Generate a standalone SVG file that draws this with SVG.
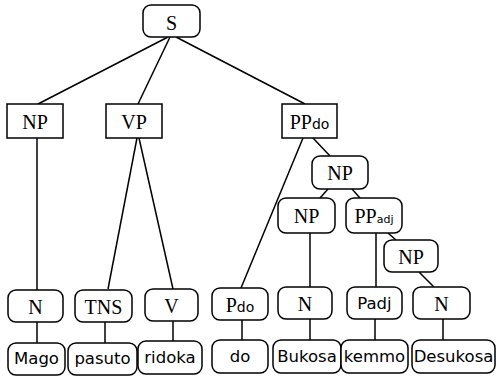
<svg xmlns="http://www.w3.org/2000/svg" width="497" height="377" viewBox="0 0 497 377">
<style>
.r{fill:#fff;stroke:#000;stroke-width:1.5}
.c{font-family:"Liberation Serif",serif;font-size:20px;text-anchor:middle;fill:#000}
.w{font-family:"DejaVu Sans",sans-serif;font-size:16.5px;text-anchor:middle;fill:#000}
.s{font-family:"DejaVu Sans",sans-serif;font-size:14px}
.x{font-family:"DejaVu Sans",sans-serif;font-size:11px}
#edges line{stroke:#000;stroke-width:1.5}
</style>
<rect width="497" height="377" fill="#fff"/>
<g id="edges">
<line x1="168" y1="37" x2="38" y2="104"/>
<line x1="170" y1="37" x2="138" y2="104"/>
<line x1="176" y1="37" x2="305" y2="104"/>
<line x1="37" y1="138" x2="37" y2="290"/>
<line x1="137" y1="138" x2="108" y2="289"/>
<line x1="139" y1="138" x2="173" y2="289"/>
<line x1="303" y1="138" x2="241" y2="288"/>
<line x1="313" y1="138" x2="330" y2="156"/>
<line x1="328" y1="189" x2="320" y2="198"/>
<line x1="352" y1="189" x2="360" y2="198"/>
<line x1="310" y1="233" x2="310" y2="287"/>
<line x1="376" y1="233" x2="376" y2="288"/>
<line x1="388" y1="233" x2="396" y2="240"/>
<line x1="419" y1="272" x2="434" y2="287"/>
<line x1="37" y1="322" x2="37" y2="343"/>
<line x1="105" y1="322" x2="105" y2="343"/>
<line x1="173" y1="321" x2="173" y2="341"/>
<line x1="242" y1="320" x2="242" y2="340"/>
<line x1="310" y1="319" x2="310" y2="340"/>
<line x1="375" y1="319" x2="375" y2="340"/>
<line x1="443" y1="319" x2="443" y2="340"/>
</g>
<g id="S"><rect class="r" x="143" y="5" width="57" height="32" rx="8"/><text class="c" x="171.5" y="30">S</text></g>
<g id="NP1"><rect class="r" x="7" y="104" width="56" height="34"/><text class="c" x="35" y="129">NP</text></g>
<g id="VP"><rect class="r" x="106" y="104" width="56" height="34"/><text class="c" x="134" y="129">VP</text></g>
<g id="PPdo"><rect class="r" x="282" y="104" width="55" height="34"/><text class="c" x="309.5" y="129">PP<tspan class="s">do</tspan></text></g>
<g id="NP2"><rect class="r" x="312" y="156" width="56" height="33" rx="8"/><text class="c" x="340" y="180">NP</text></g>
<g id="NP3"><rect class="r" x="278" y="198" width="57" height="35" rx="8"/><text class="c" x="306.5" y="223">NP</text></g>
<g id="PPadj"><rect class="r" x="346" y="198" width="56" height="35" rx="8"/><text class="c" x="374" y="223">PP<tspan class="x">adj</tspan></text></g>
<g id="NP4"><rect class="r" x="384" y="240" width="54" height="32" rx="8"/><text class="c" x="411" y="264">NP</text></g>
<g id="N1"><rect class="r" x="8" y="290" width="55" height="32" rx="8"/><text class="c" x="35.5" y="314">N</text></g>
<g id="TNS"><rect class="r" x="75" y="290" width="57" height="32" rx="8"/><text class="c" x="103.5" y="314">TNS</text></g>
<g id="V"><rect class="r" x="145" y="289" width="53" height="32" rx="8"/><text class="c" x="171.5" y="313">V</text></g>
<g id="Pdo"><rect class="r" x="212" y="288" width="56" height="32" rx="8"/><text class="c" x="240" y="312">P<tspan class="s">do</tspan></text></g>
<g id="N2"><rect class="r" x="278" y="287" width="54" height="32" rx="8"/><text class="c" x="305" y="311">N</text></g>
<g id="Padj"><rect class="r" x="347" y="287" width="55" height="32" rx="8"/><text class="w" x="374.5" y="309">Padj</text></g>
<g id="N3"><rect class="r" x="413" y="287" width="57" height="32" rx="8"/><text class="c" x="441.5" y="311">N</text></g>
<g id="Mago"><rect class="r" x="8" y="343" width="57" height="32" rx="8"/><text class="w" x="36.5" y="364">Mago</text></g>
<g id="pasuto"><rect class="r" x="68" y="343" width="69" height="32" rx="8"/><text class="w" x="102.5" y="364">pasuto</text></g>
<g id="ridoka"><rect class="r" x="138" y="341" width="64" height="33" rx="8"/><text class="w" x="170" y="363">ridoka</text></g>
<g id="do"><rect class="r" x="212" y="340" width="56" height="33" rx="8"/><text class="w" x="240" y="362">do</text></g>
<g id="Bukosa"><rect class="r" x="273" y="340" width="68" height="33" rx="8"/><text class="w" x="307" y="362">Bukosa</text></g>
<g id="kemmo"><rect class="r" x="341" y="340" width="67" height="33" rx="8"/><text class="w" x="374.5" y="362">kemmo</text></g>
<g id="Desukosa"><rect class="r" x="412" y="340" width="83" height="33" rx="8"/><text class="w" x="453.5" y="362">Desukosa</text></g>
</svg>
